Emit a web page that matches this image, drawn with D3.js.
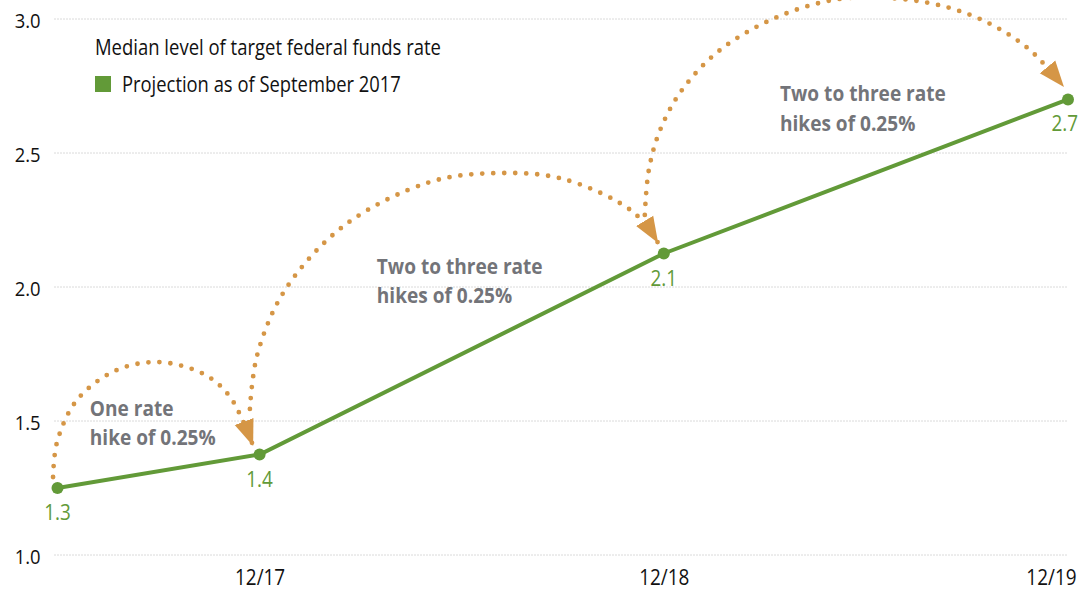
<!DOCTYPE html>
<html><head><meta charset="utf-8">
<script src="https://cdn.jsdelivr.net/npm/d3@7"></script>
<style>
html,body{margin:0;padding:0;background:#fff;}
svg{display:block;}
text{font-family:"Open Sans","Noto Sans",sans-serif;}
</style></head><body>
<svg id="chart" width="1082" height="590"></svg>
<script>
// Median projection of the target federal funds rate (percent)
const periods = [0.5, 1, 2, 3];            // years after 12/16
const rates = [1.25, 1.375, 2.125, 2.7];
const tickPeriods = [1, 2, 3];
const tickLabels = ["12/17", "12/18", "12/19"];
const yTicks = [1.0, 1.5, 2.0, 2.5, 3.0];
const chartTitle = "Median level of target federal funds rate";
const seriesName = "Projection as of September 2017";

// Hike annotations: dotted arcs given as (period, rate) waypoints
const arcOne = [[0.489,1.291],[0.499,1.422],[0.548,1.578],[0.642,1.687],[0.749,1.720],[0.862,1.675],[0.927,1.590],[0.984,1.407]];
const arcTwo = [[0.976,1.545],[0.994,1.746],[1.063,1.989],[1.211,2.231],[1.422,2.392],[1.587,2.425],[1.751,2.403],[1.924,2.280],[1.986,2.164]];
const arcThree = [[1.953,2.269],[1.963,2.437],[1.991,2.586],[2.045,2.735],[2.139,2.884],[2.280,3.007],[2.436,3.075],[2.585,3.075],[2.708,3.041],[2.812,2.978],[2.906,2.884],[2.990,2.746]];
const noteOne = ["One rate", "hike of 0.25%"];
const noteTwo = ["Two to three rate", "hikes of 0.25%"];
const noteThree = ["Two to three rate", "hikes of 0.25%"];
const notePositions = [[0.580, 1.519], [1.290, 2.049], [2.2875, 2.694]];

const green = "#629a38";
const orange = "#d59646";
const noteGray = "#737479";
const width = 1082;

const svg = d3.select("#chart");
const x = d3.scaleLinear().domain([0.5, 3]).range([57.5, 1068]);
const y = d3.scaleLinear().domain([1, 3]).range([555, 19]);

// narrow a text run horizontally to give a condensed face
function condense(sel, k) {
  sel.each(function () {
    const w = this.getComputedTextLength();
    d3.select(this).attr("textLength", w * k).attr("lengthAdjust", "spacingAndGlyphs");
  });
}

// dotted horizontal grid
svg.append("g").selectAll("line").data(yTicks).join("line")
  .attr("x1", x(0.5) - 3).attr("x2", x(3) - 1)
  .attr("y1", d => y(d)).attr("y2", d => y(d))
  .attr("stroke", "#b5b5b5").attr("stroke-width", 1)
  .attr("stroke-dasharray", "1,2");

// y axis labels
const yAxis = svg.append("g").attr("transform", `translate(${x(0.5) - 2},0)`)
  .call(d3.axisLeft(y).tickValues(yTicks).tickFormat(d3.format(".1f")).tickSize(0).tickPadding(15));
yAxis.select(".domain").remove();
yAxis.selectAll("text").attr("font-size", 20).attr("fill", "#111").attr("dy", "0.42em")
  .style("font-family", '"Open Sans","Noto Sans",sans-serif');
condense(yAxis.selectAll("text"), 0.92);

// x axis labels
const xAxis = svg.append("g").attr("transform", `translate(0,${y(1)})`)
  .call(d3.axisBottom(x).tickValues(tickPeriods).tickFormat((d, i) => tickLabels[i]).tickSize(0).tickPadding(15));
xAxis.select(".domain").remove();
xAxis.selectAll("text").attr("font-size", 21).attr("fill", "#111")
  .style("font-family", '"Open Sans","Noto Sans",sans-serif');
condense(xAxis.selectAll("text"), 0.9);
xAxis.selectAll(".tick:last-of-type text").attr("text-anchor", "end").attr("x", 8);

// arrowhead marker
const defs = svg.append("defs");
defs.append("marker").attr("id", "hikeArrow")
  .attr("markerUnits", "userSpaceOnUse").attr("orient", "auto")
  .attr("markerWidth", 30).attr("markerHeight", 24)
  .attr("viewBox", "0 -12 30 24").attr("refX", 26).attr("refY", 0)
  .append("path").attr("d", "M0,-10L26,0L0,10Z").attr("fill", orange);

// dotted hike arcs
const arcLine = d3.line().x(d => x(d[0])).y(d => y(d[1])).curve(d3.curveCatmullRom.alpha(0.5));
svg.append("g").selectAll("path").data([arcOne, arcTwo, arcThree]).join("path")
  .attr("d", arcLine)
  .attr("fill", "none").attr("stroke", orange).attr("stroke-width", 4.8)
  .attr("stroke-linecap", "round").attr("stroke-dasharray", "0,11")
  .attr("marker-end", "url(#hikeArrow)");

// hike notes
[noteOne, noteTwo, noteThree].forEach((lines, i) => {
  lines.forEach((s, j) => {
    const t = svg.append("text")
      .attr("x", x(notePositions[i][0])).attr("y", y(notePositions[i][1]) + j * 29.5)
      .attr("font-size", 20.5).attr("font-weight", "bold").attr("fill", noteGray)
      .text(s);
    condense(t, 0.93);
  });
});

// projection line
svg.append("path").datum(periods.map((p, i) => [p, rates[i]]))
  .attr("d", d3.line().x(d => x(d[0])).y(d => y(d[1])))
  .attr("fill", "none").attr("stroke", green).attr("stroke-width", 4);

svg.append("g").selectAll("circle").data(rates).join("circle")
  .attr("cx", (d, i) => x(periods[i])).attr("cy", d => y(d)).attr("r", 6)
  .attr("fill", green);

const valueLabels = svg.append("g").selectAll("text").data(rates).join("text")
  .attr("x", (d, i) => x(periods[i])).attr("y", d => y(d) + 32)
  .attr("text-anchor", "middle").attr("font-size", 21).attr("fill", green)
  .text(d => d3.format(".1f")(d));
condense(valueLabels, 0.9);
// keep the rightmost value label inside the frame
valueLabels.each(function () {
  const b = this.getBBox();
  const over = b.x + b.width - (width - 4);
  if (over > 0) d3.select(this).attr("x", +d3.select(this).attr("x") - over);
});

// legend
const title = svg.append("text").attr("x", 95).attr("y", 55).attr("font-size", 21.5).attr("fill", "#111").text(chartTitle);
condense(title, 0.88 * 21 / 21.5);
svg.append("rect").attr("x", 95).attr("y", 76).attr("width", 16).attr("height", 16).attr("fill", green);
const series = svg.append("text").attr("x", 122).attr("y", 92).attr("font-size", 21.5).attr("fill", "#111").text(seriesName);
condense(series, 0.875 * 21 / 21.5);
</script>
</body></html>
